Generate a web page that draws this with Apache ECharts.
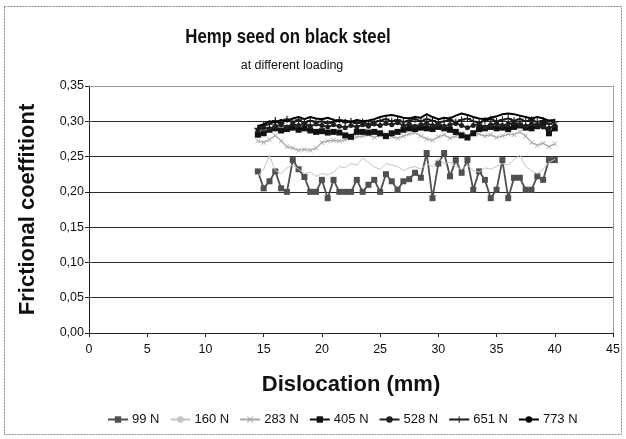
<!DOCTYPE html>
<html>
<head>
<meta charset="utf-8">
<script src="https://cdn.jsdelivr.net/npm/echarts@6/dist/echarts.min.js"></script>
<style>
  html, body { margin: 0; padding: 0; background: #ffffff; }
  #chart { width: 626px; height: 439px; }
</style>
</head>
<body>
<div id="chart"></div>
<script>
// Dislocation positions (mm) shared by all loading series
const dislocation = [
  14.5, 15.0, 15.5, 16.0, 16.5, 17.0, 17.5, 18.0, 18.5, 19.0,
  19.5, 20.0, 20.5, 21.0, 21.5, 22.0, 22.5, 23.0, 23.5, 24.0,
  24.5, 25.0, 25.5, 26.0, 26.5, 27.0, 27.5, 28.0, 28.5, 29.0,
  29.5, 30.0, 30.5, 31.0, 31.5, 32.0, 32.5, 33.0, 33.5, 34.0,
  34.5, 35.0, 35.5, 36.0, 36.5, 37.0, 37.5, 38.0, 38.5, 39.0,
  39.5, 40.0
];

// Frictional coefficient for each normal load
const load99 = [
  0.229, 0.205, 0.215, 0.229, 0.205, 0.200, 0.245, 0.232, 0.221, 0.200,
  0.200, 0.217, 0.191, 0.217, 0.200, 0.200, 0.200, 0.217, 0.200, 0.210,
  0.217, 0.200, 0.225, 0.215, 0.203, 0.215, 0.218, 0.227, 0.220, 0.255,
  0.191, 0.240, 0.255, 0.222, 0.245, 0.227, 0.245, 0.203, 0.229, 0.217,
  0.191, 0.203, 0.245, 0.191, 0.220, 0.220, 0.203, 0.203, 0.222, 0.217,
  0.245, 0.245
];
const load160 = [
  0.222, 0.232, 0.252, 0.230, 0.226, 0.234, 0.238, 0.232, 0.226, 0.228,
  0.222, 0.226, 0.224, 0.228, 0.236, 0.234, 0.240, 0.238, 0.248, 0.242,
  0.235, 0.232, 0.240, 0.238, 0.236, 0.230, 0.234, 0.236, 0.232, 0.240,
  0.236, 0.248, 0.240, 0.242, 0.236, 0.232, 0.238, 0.230, 0.228, 0.234,
  0.232, 0.236, 0.240, 0.238, 0.246, 0.252, 0.236, 0.230, 0.226, 0.232,
  0.242, 0.246
];
const load283 = [
  0.272, 0.270, 0.274, 0.280, 0.272, 0.264, 0.262, 0.259, 0.260, 0.259,
  0.262, 0.270, 0.272, 0.273, 0.272, 0.274, 0.276, 0.278, 0.279, 0.281,
  0.277, 0.280, 0.282, 0.278, 0.276, 0.279, 0.282, 0.284, 0.279, 0.275,
  0.273, 0.278, 0.281, 0.276, 0.279, 0.283, 0.280, 0.284, 0.282, 0.279,
  0.281, 0.277, 0.279, 0.282, 0.281, 0.285, 0.279, 0.270, 0.266, 0.269,
  0.264, 0.268
];
const load405 = [
  0.281, 0.283, 0.288, 0.290, 0.287, 0.289, 0.291, 0.288, 0.290, 0.287,
  0.285, 0.286, 0.284, 0.285, 0.284, 0.280, 0.278, 0.285, 0.285, 0.284,
  0.285, 0.283, 0.279, 0.283, 0.285, 0.288, 0.290, 0.289, 0.291, 0.290,
  0.289, 0.292, 0.290, 0.288, 0.285, 0.280, 0.277, 0.283, 0.289, 0.290,
  0.292, 0.290, 0.291, 0.289, 0.292, 0.294, 0.291, 0.290, 0.293, 0.295,
  0.283, 0.290
];
const load528 = [
  0.287, 0.291, 0.289, 0.293, 0.295, 0.292, 0.296, 0.294, 0.297, 0.293,
  0.296, 0.294, 0.292, 0.295, 0.293, 0.291, 0.294, 0.292, 0.295, 0.293,
  0.296, 0.294, 0.297, 0.295, 0.298, 0.294, 0.296, 0.293, 0.295, 0.297,
  0.294, 0.296, 0.293, 0.295, 0.297, 0.294, 0.291, 0.294, 0.296, 0.292,
  0.295, 0.297, 0.294, 0.296, 0.298, 0.295, 0.293, 0.296, 0.294, 0.292,
  0.290, 0.294
];
const load651 = [
  0.290, 0.294, 0.296, 0.301, 0.297, 0.303, 0.299, 0.302, 0.298, 0.301,
  0.299, 0.300, 0.297, 0.299, 0.302, 0.298, 0.300, 0.297, 0.299, 0.296,
  0.299, 0.301, 0.303, 0.300, 0.302, 0.299, 0.301, 0.303, 0.300, 0.303,
  0.301, 0.298, 0.300, 0.302, 0.299, 0.302, 0.304, 0.300, 0.298, 0.301,
  0.303, 0.300, 0.302, 0.304, 0.301, 0.303, 0.300, 0.302, 0.299, 0.301,
  0.296, 0.299
];
const load773 = [
  0.293, 0.296, 0.300, 0.298, 0.302, 0.300, 0.304, 0.306, 0.303, 0.306,
  0.304, 0.303, 0.305, 0.302, 0.300, 0.301, 0.299, 0.302, 0.300, 0.301,
  0.303, 0.306, 0.308, 0.309, 0.307, 0.305, 0.304, 0.306, 0.305, 0.310,
  0.306, 0.303, 0.305, 0.304, 0.308, 0.311, 0.309, 0.306, 0.304, 0.303,
  0.305, 0.307, 0.310, 0.311, 0.310, 0.308, 0.306, 0.304, 0.306, 0.304,
  0.301, 0.302
];

const seriesNames = ['99 N', '160 N', '283 N', '405 N', '528 N', '651 N', '773 N'];
const seriesValues = [load99, load160, load283, load405, load528, load651, load773];

const FONT = '"Liberation Sans", Arial, sans-serif';

// marker shapes
const CROSS = 'path://M0,1L1,0L5,4L9,0L10,1L6,5L10,9L9,10L5,6L1,10L0,9L4,5Z';
const PLUS = 'path://M4.2,0H5.8V4.2H10V5.8H5.8V10H4.2V5.8H0V4.2H4.2Z';

const styles = [
  { color: '#505050', width: 1.8, symbol: 'rect', size: 6 },
  { color: '#c4c4c4', width: 1, symbol: 'none', size: 0 },
  { color: '#a8a8a8', width: 1.2, symbol: CROSS, size: 5 },
  { color: '#111111', width: 2, symbol: 'rect', size: 6 },
  { color: '#202020', width: 1.8, symbol: 'circle', size: 5 },
  { color: '#1a1a1a', width: 1.8, symbol: PLUS, size: 7 },
  { color: '#000000', width: 2, symbol: 'none', size: 0 }
];

const series = seriesNames.map((name, k) => ({
  name: name,
  type: 'line',
  data: dislocation.map((x, i) => [x, seriesValues[k][i]]),
  symbol: styles[k].symbol,
  symbolSize: styles[k].size,
  showSymbol: styles[k].symbol !== 'none',
  lineStyle: { color: styles[k].color, width: styles[k].width },
  itemStyle: { color: styles[k].color },
  z: 2 + k,
  animation: false
}));

const fmt = v => v.toFixed(2).replace('.', ',');

const chart = echarts.init(document.getElementById('chart'), null, { renderer: 'canvas' });
chart.setOption({
  backgroundColor: '#ffffff',
  animation: false,
  graphic: [
    {
      type: 'rect',
      shape: { x: 4.5, y: 6.5, width: 617, height: 428 },
      style: { fill: 'none', stroke: '#888', lineWidth: 1, lineDash: [2, 1] },
      silent: true, z: -1
    },
    // chart title, set in a slightly condensed bold face
    {
      type: 'text',
      x: 288, y: 37, scaleX: 0.8,
      style: {
        text: 'Hemp seed on black steel',
        x: 0, y: 0, align: 'center', verticalAlign: 'middle',
        font: 'bold 21px "Liberation Sans", Arial, sans-serif', fill: '#111'
      },
      silent: true
    },
    {
      type: 'text',
      x: 292, y: 66,
      style: {
        text: 'at different loading',
        x: 0, y: 0, align: 'center', verticalAlign: 'middle',
        font: '12.5px "Liberation Sans", Arial, sans-serif', fill: '#111'
      },
      silent: true
    }
  ],
  legend: {
    data: seriesNames,
    left: 102, top: 408,
    itemWidth: 20, itemHeight: 8, itemGap: 10,
    textStyle: { fontFamily: FONT, fontSize: 13, color: '#111', padding: [0, 0, 0, -1] }
  },
  grid: { left: 89, right: 13, top: 86, bottom: 106, containLabel: false },
  xAxis: [
    {
      type: 'value', min: 0, max: 45, interval: 5,
      name: 'Dislocation (mm)', nameLocation: 'middle', nameGap: 41,
      nameTextStyle: { fontFamily: FONT, fontWeight: 'bold', fontSize: 22, color: '#111' },
      axisLine: { show: true, onZero: false, lineStyle: { color: '#222', width: 1 } },
      axisTick: { show: true, inside: false, length: 4, lineStyle: { color: '#222' } },
      axisLabel: { fontFamily: FONT, fontSize: 12.5, color: '#111', margin: 10 },
      splitLine: { show: false }
    },
    {
      type: 'value', min: 0, max: 45, position: 'top',
      axisLine: { show: true, onZero: false, lineStyle: { color: '#888', width: 1, type: 'dotted' } },
      axisTick: { show: false }, axisLabel: { show: false }, splitLine: { show: false }
    }
  ],
  yAxis: [
    {
      type: 'value', min: 0, max: 0.35, interval: 0.05,
      name: 'Frictional coeffitiont', nameLocation: 'middle', nameGap: 50,
      nameTextStyle: { fontFamily: FONT, fontWeight: 'bold', fontSize: 22, color: '#111' },
      axisLine: { show: true, onZero: false, lineStyle: { color: '#222', width: 1 } },
      axisTick: { show: true, inside: false, length: 4, lineStyle: { color: '#222' } },
      axisLabel: { fontFamily: FONT, fontSize: 12.5, color: '#111', margin: 5, formatter: fmt },
      splitLine: {
        show: true,
        lineStyle: {
          color: ['#222', '#2a2a2a', '#2a2a2a', '#2a2a2a', '#2a2a2a', '#2a2a2a', '#2a2a2a', 'rgba(0,0,0,0)'],
          width: 1
        }
      }
    },
    {
      type: 'value', min: 0, max: 0.35, position: 'right',
      axisLine: { show: true, onZero: false, lineStyle: { color: '#888', width: 1, type: 'dotted' } },
      axisTick: { show: false }, axisLabel: { show: false }, splitLine: { show: false }
    }
  ],
  series: series
});
</script>
</body>
</html>
